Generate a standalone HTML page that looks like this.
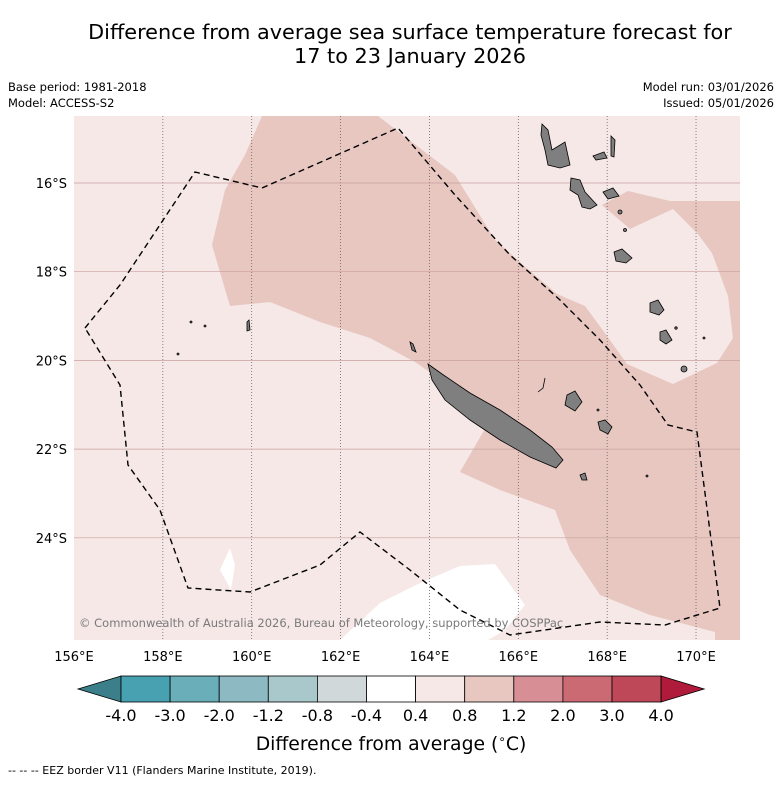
<!DOCTYPE html>
<html><head><meta charset="utf-8"><style>
body{margin:0;background:#fff;font-family:"Liberation Sans","DejaVu Sans",sans-serif;}
svg text{font-family:"DejaVu Sans","Liberation Sans",sans-serif;}
</style></head><body>
<svg width="781" height="781" viewBox="0 0 781 781" xmlns="http://www.w3.org/2000/svg">
<text x="410" y="39" text-anchor="middle" font-size="20.8">Difference from average sea surface temperature forecast for</text>
<text x="410" y="63" text-anchor="middle" font-size="20.8">17 to 23 January 2026</text>
<text x="8" y="91" font-size="11.5">Base period: 1981-2018</text>
<text x="8" y="107" font-size="11.5">Model: ACCESS-S2</text>
<text x="774" y="91" font-size="11.5" text-anchor="end">Model run: 03/01/2026</text>
<text x="774" y="107" font-size="11.5" text-anchor="end">Issued: 05/01/2026</text>
<g>
<rect x="74" y="116" width="666" height="524" fill="#f5e8e6"/>
<polygon fill="#e8c7c1" points="262,116 378,116 455,175 495,240 530,271 557,294 585,306 607,336 627,364 673,384 717,363 733,338 728,296 712,253 697,233 673,209 630,229 602,205 628,191 670,201 693,201 740,201 740,640 715,640 715,632 650,615 600,595 570,550 555,510 500,490 460,472 490,420 470,400 415,362 370,338 320,322 270,302 230,306 212,245 225,190 245,155"/>
<polygon fill="#ffffff" points="340,640 380,603 420,583 460,566 495,564 525,605 505,630 488,640"/>
<polygon fill="#ffffff" points="220,570 230,548 235,565 231,590"/>
<g stroke="#555" stroke-width="0.7" stroke-dasharray="1,2" id="grid"></g>
<g fill="#7f7f7f" stroke="#000" stroke-width="0.8">
<polygon points="428,364 442,374 470,393 500,410 530,430 552,447 563,460 556,468 530,457 500,440 470,420 445,400 432,380"/>
<polygon points="542,124 548,130 552,150 565,142 570,165 560,168 548,165 545,150 541,135"/>
<polygon points="571,178 580,180 585,192 597,205 590,209 582,207 578,195 570,190"/>
<polygon points="603,192 613,188 619,196 608,199"/>
<polygon points="614,252 622,249 632,258 626,263 616,261"/>
<polygon points="567,395 575,391 582,402 575,411 565,405"/>
<polygon points="598,422 605,420 612,427 608,434 600,430"/>
<polygon points="593,156 604,152 607,158 596,160"/>
<polygon points="611,136 615,140 614,157 611,156"/>
<polygon points="650,303 658,300 664,310 659,315 650,312"/>
<polygon points="660,332 666,330 672,340 666,344 660,340"/>
<polygon points="580,475 585,473 587,480 582,480"/>
<polygon points="247,322 249,320 250,330 247,331"/>
<polygon points="410,342 413,344 416,352 412,350"/>
<circle cx="684" cy="369" r="3"/><circle cx="620" cy="212" r="2"/><circle cx="625" cy="230" r="1.5"/><circle cx="676" cy="328" r="1.2"/><circle cx="704" cy="338" r="1"/><circle cx="178" cy="354" r="1"/><circle cx="191" cy="322" r="1"/><circle cx="205" cy="326" r="1"/><circle cx="598" cy="410" r="1"/><circle cx="647" cy="476" r="1"/>
<polyline fill="none" points="538,392 543,388 545,378"/>
</g>
<polyline fill="none" stroke="#000" stroke-width="1.4" stroke-dasharray="6,4" points="85,328 120,285 195,172 262,188 398,128 455,195 510,255 560,300 600,340 640,385 668,425 697,432 720,608 665,625 600,622 510,635 460,610 410,570 360,532 320,565 250,592 188,588 160,510 128,465 120,385 85,328"/>
<text x="79" y="627" font-size="11.5" fill="#7a7a7a">© Commonwealth of Australia 2026, Bureau of Meteorology, supported by COSPPac</text>
</g>
<g id="axes" font-size="13"></g>
<g id="cbar"></g>
<text x="391" y="750" text-anchor="middle" font-size="18.8">Difference from average (<tspan baseline-shift="super" font-size="12">∘</tspan>C)</text>
<text x="8" y="774" font-size="11">--  --  -- EEZ border V11 (Flanders Marine Institute, 2019).</text>
</svg>
<script>
const lonTicks=[156,158,160,162,164,166,168,170];
const latTicks=[16,18,20,22,24];
const cbBounds=["-4.0","-3.0","-2.0","-1.2","-0.8","-0.4","0.4","0.8","1.2","2.0","3.0","4.0"];
const cbColors=["#48a1b1","#6aaeb9","#8db9c3","#a9c8cb","#d1d8da","#ffffff","#f5e8e6","#e8c7c1","#d78f95","#cc6a74","#bf4858"];
const NS="http://www.w3.org/2000/svg";
const X=lon=>74+(lon-156)*44.43;
const Y=lat=>183+(lat-16)*44.35;
function mk(t,a,p){const e=document.createElementNS(NS,t);for(const k in a)e.setAttribute(k,a[k]);p.appendChild(e);return e;}
const grid=document.getElementById('grid'),axes=document.getElementById('axes'),cb=document.getElementById('cbar');
lonTicks.forEach(l=>{
 if(l>156){const g=mk('line',{x1:X(l),x2:X(l),y1:116,y2:640},grid);
 
 }
 const t=mk('text',{x:X(l),y:661,'text-anchor':'middle'},axes);t.textContent=l+'°E';
 
 
});
latTicks.forEach(l=>{
 const g=mk('line',{x1:74,x2:740,y1:Y(l),y2:Y(l),stroke:'#c9a0a0','stroke-dasharray':'none'},grid);
 
 
 const t=mk('text',{x:67,y:Y(l)+5,'text-anchor':'end'},axes);t.textContent=l+'°S';
 
 
});
const x0=121,w=49.1,y0=676,h=26;
const lt=mk('polygon',{points:`78,${y0+h/2} ${x0},${y0} ${x0},${y0+h}`,fill:'#3a7f89',stroke:'#000','stroke-width':0.8},cb);


cbColors.forEach((c,i)=>{
 const r=mk('rect',{x:x0+i*w,y:y0,width:w,height:h,fill:c,stroke:'#000','stroke-width':0.8},cb);
 
 
});
const xe=x0+cbColors.length*w;
const rt=mk('polygon',{points:`${xe},${y0} ${xe+43},${y0+h/2} ${xe},${y0+h}`,fill:'#b01b3b',stroke:'#000','stroke-width':0.8},cb);


cbBounds.forEach((b,i)=>{
 const t=mk('text',{x:x0+i*w,y:721,'text-anchor':'middle','font-size':16},cb);t.textContent=b;
 
 
});
</script>
</body></html>
